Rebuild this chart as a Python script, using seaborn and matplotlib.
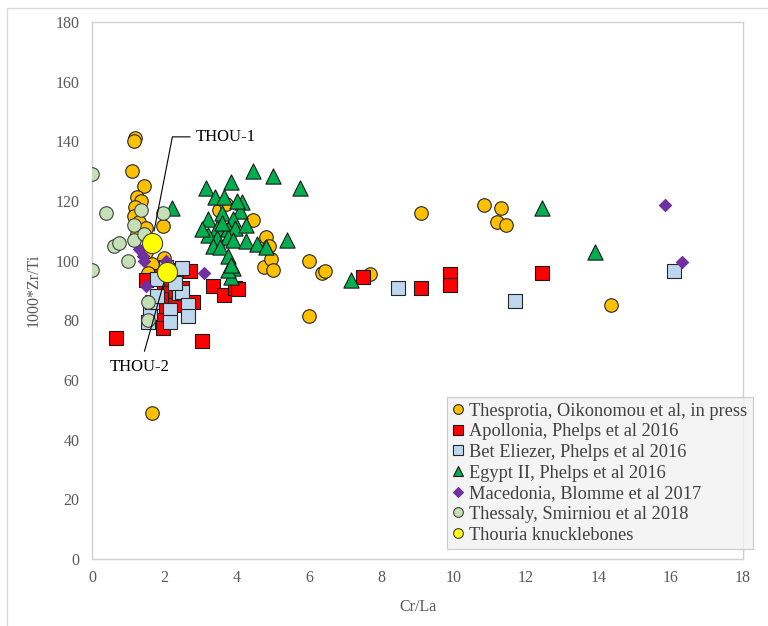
import matplotlib
matplotlib.use("Agg")
import matplotlib.pyplot as plt
from matplotlib.lines import Line2D
from matplotlib.patches import Rectangle
import seaborn as sns
import pandas as pd

# --- data: Cr/La (x) versus 1000*Zr/Ti (y) ---
thesprotia_x = [1.2, 1.15, 1.1, 1.45, 1.25, 1.35, 1.2, 1.15, 1.3, 1.5, 1.95, 1.25, 1.7, 1.5,
                1.65, 1.55, 1.9, 2.0, 1.65, 3.5, 3.7, 4.45, 4.8, 4.9, 4.75, 4.95, 5.0, 6.0,
                6.0, 6.35, 6.45, 7.7, 9.1, 10.85, 11.3, 11.2, 11.45, 14.35]
thesprotia_y = [141, 140, 130, 125, 121.5, 120, 118, 115, 113, 111, 111.5, 109, 106, 103,
                99, 96, 79, 101, 49, 117, 119, 113.5, 108, 105, 98, 100.5, 97, 100,
                81.5, 96, 96.5, 95.5, 116, 118.5, 117.5, 113, 112, 85]

apollonia_x = [0.65, 3.05, 1.5, 1.9, 2.0, 2.15, 1.9, 2.05, 1.8, 1.95, 2.25, 2.45, 2.7, 2.8,
               2.3, 2.5, 3.35, 3.65, 3.95, 4.05, 7.5, 9.1, 9.9, 9.9, 12.45]
apollonia_y = [74, 73, 93.5, 95, 92, 89, 87, 83.5, 80, 77.5, 95.5, 97, 96.5, 86,
               85, 91, 91.5, 88.5, 91, 90.5, 94.5, 91, 95.5, 92, 96]

beteliezer_x = [1.55, 1.6, 1.65, 1.8, 1.8, 2.15, 2.15, 2.4, 2.5, 2.5, 2.65, 2.65, 2.3,
                2.05, 8.45, 11.7, 16.1]
beteliezer_y = [79.5, 82.5, 86, 94, 88, 83.5, 79.5, 89, 97.5, 89.5, 85, 81.5, 92.5,
                98, 91, 86.5, 96.5]

egypt_x = [2.2, 3.15, 3.85, 3.4, 3.65, 4.15, 4.1, 3.2, 3.6, 3.9, 3.45, 3.75, 3.2, 3.95,
           4.25, 3.45, 3.75, 3.9, 4.25, 3.35, 3.55, 3.75, 3.9, 3.85, 4.55, 4.8, 5.4,
           4.45, 5.0, 5.75, 7.15, 12.45, 13.9, 3.05, 3.6, 4.0, 3.75, 3.85]
egypt_y = [117.5, 124.5, 126.5, 121.5, 121.5, 119.5, 116.5, 114, 116, 114, 111, 110.5,
           108.5, 111, 112, 107.5, 108, 107, 106.5, 105, 104.5, 101.5, 97.5, 94.5,
           105.5, 104.5, 107, 130, 128.5, 124.5, 93.5, 117.5, 103, 110.5, 112.5, 120,
           97, 98.5]

macedonia_x = [1.3, 1.4, 1.45, 2.05, 1.5, 3.1, 15.85, 16.3]
macedonia_y = [104, 101.5, 100, 100, 91.5, 96, 118.5, 99.5]

thessaly_x = [0.0, 0.0, 0.4, 0.6, 0.75, 1.0, 1.15, 1.15, 1.35, 1.45, 1.95, 1.55, 1.55]
thessaly_y = [129, 97, 116, 105, 106, 100, 112, 107, 117, 109, 116, 86, 80]

thouria_x = [1.65, 2.07]
thouria_y = [105.8, 96.2]
thouria_labels = ["THOU-1", "THOU-2"]

series_names = [
    "Thesprotia, Oikonomou et al, in press",
    "Apollonia, Phelps et al 2016",
    "Bet Eliezer, Phelps et al 2016",
    "Egypt II, Phelps et al 2016",
    "Macedonia, Blomme et al 2017",
    "Thessaly, Smirniou et al 2018",
    "Thouria knucklebones",
]

# marker, face colour, edge colour, area
styles = [
    ("o", "#FFC000", "#262626", 95),
    ("s", "#FF0000", "#1a1a1a", 95),
    ("s", "#BDD7EE", "#262626", 95),
    ("^", "#00B050", "#1a1a1a", 120),
    ("D", "#7030A0", "#7030A0", 38),
    ("o", "#C5E0B4", "#404040", 95),
    ("o", "#FFFF00", "#404040", 210),
]

xs = [thesprotia_x, apollonia_x, beteliezer_x, egypt_x, macedonia_x, thessaly_x, thouria_x]
ys = [thesprotia_y, apollonia_y, beteliezer_y, egypt_y, macedonia_y, thessaly_y, thouria_y]

sns.set_theme(style="white")
plt.rcParams["font.family"] = ["Liberation Serif", "DejaVu Serif"]

fig = plt.figure(figsize=(7.68, 6.26), dpi=100)
ax = fig.add_axes([92 / 768, 1 - 559 / 626, (743 - 92) / 768, (559 - 22) / 626])

for name, x, y, (mk, fc, ec, s) in zip(series_names, xs, ys, styles):
    df = pd.DataFrame({"Cr/La": x, "1000*Zr/Ti": y})
    sns.scatterplot(data=df, x="Cr/La", y="1000*Zr/Ti", ax=ax, marker=mk, color=fc,
                    edgecolor=ec, linewidth=0.8, s=s, legend=False, zorder=3)

ax.set_xlim(0, 18)
ax.set_ylim(0, 180)
ax.set_xticks(range(0, 19, 2))
ax.set_yticks(range(0, 181, 20))

grey = "#595959"
for sp in ax.spines.values():
    sp.set_color("#d0d0d0")
    sp.set_linewidth(1.0)
ax.tick_params(axis="y", direction="out", length=5, width=0.8, color="#bfbfbf",
               labelcolor=grey, labelsize=11.5, pad=4)
ax.tick_params(axis="x", direction="in", length=4, width=0.8, color="#bfbfbf",
               labelcolor=grey, labelsize=11.5, pad=8)
ax.set_xlabel("Cr/La", color=grey, fontsize=11.5, labelpad=9)
ax.set_ylabel("1000*Zr/Ti", color=grey, fontsize=11.5, labelpad=10)

# leader lines and labels for the two knucklebones
ax.annotate(thouria_labels[0], xy=(thouria_x[0], thouria_y[0]), xytext=(2.88, 141.5),
            fontsize=12, color="black", va="center", ha="left",
            arrowprops=dict(arrowstyle="-", color="black", lw=0.8, shrinkA=2, shrinkB=9,
                            connectionstyle="angle,angleA=180,angleB=79,rad=0"))
ax.annotate(thouria_labels[1], xy=(thouria_x[1], thouria_y[1]), xytext=(1.33, 64.5),
            fontsize=12, color="black", va="center", ha="center",
            arrowprops=dict(arrowstyle="-", color="black", lw=0.8, shrinkA=3, shrinkB=8))

handles = [Line2D([], [], linestyle="none", marker=mk, markerfacecolor=fc,
                  markeredgecolor=ec, markeredgewidth=0.8,
                  markersize=(5 if mk == "D" else 7))
           for (mk, fc, ec, s) in styles]
leg = ax.legend(handles, series_names, loc="upper left",
                bbox_to_anchor=(447 / 768, 1 - 397 / 626), bbox_transform=fig.transFigure,
                frameon=True, fancybox=False, facecolor="#f2f2f2", edgecolor="#bfbfbf",
                fontsize=13.2, handlelength=0.65, handletextpad=0.25, labelspacing=0.2,
                borderpad=0.3, borderaxespad=0)
for t in leg.get_texts():
    t.set_color("#404040")
leg.get_frame().set_linewidth(0.8)
leg.set_zorder(5)

# outer chart border
fig.patches.append(Rectangle((7 / 768, -0.1), 1.2, (626 - 8) / 626 + 0.1,
                             transform=fig.transFigure, fill=False,
                             edgecolor="#d9d9d9", linewidth=1.0))

fig.savefig("out.png", dpi=100, facecolor="white")
